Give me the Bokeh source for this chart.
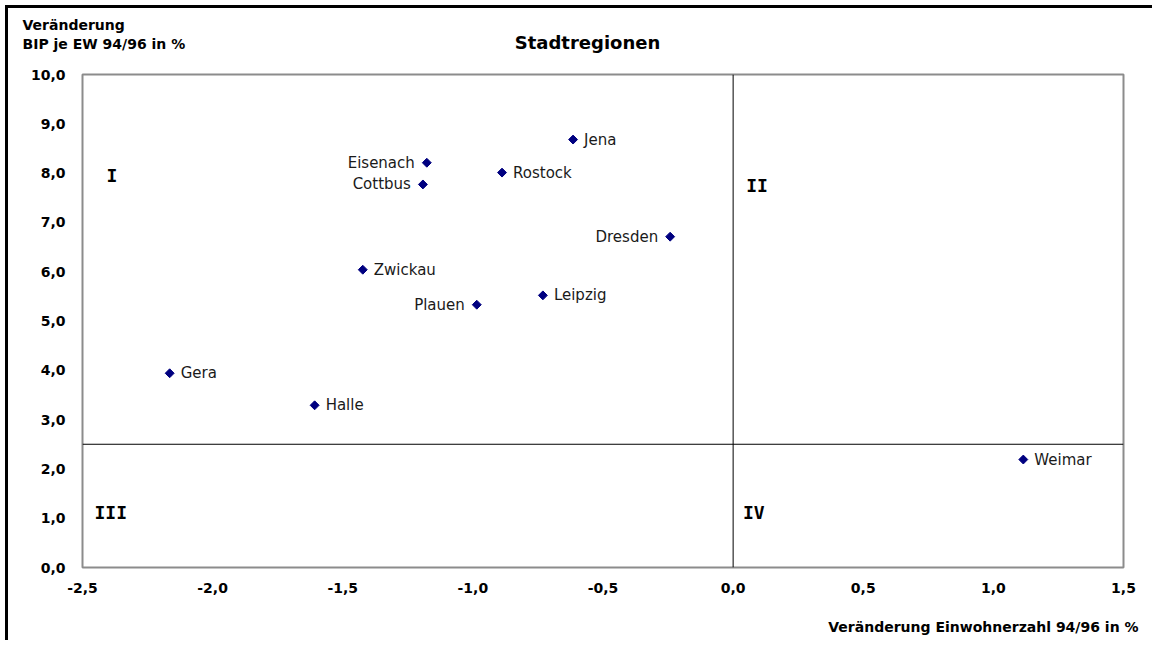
from bokeh.plotting import figure
from bokeh.models import (ColumnDataSource, Range1d, SingleIntervalTicker, CustomJSTickFormatter,
                          Span, Label)
from bokeh.core.properties import value
from bokeh.embed import file_html
from bokeh.resources import INLINE

# Data
cities = ["Jena", "Eisenach", "Rostock", "Cottbus", "Dresden", "Zwickau",
          "Leipzig", "Plauen", "Gera", "Halle", "Weimar"]
einwohner = [-0.615, -1.177, -0.888, -1.192, -0.242, -1.423,
             -0.731, -0.985, -2.165, -1.608, 1.115]
bip = [8.68, 8.21, 8.01, 7.77, 6.71, 6.04, 5.52, 5.33, 3.94, 3.29, 2.19]
label_side = ["right", "left", "right", "left", "left", "right",
              "right", "left", "right", "right", "right"]

quadrants = ["I", "II", "III", "IV"]
quad_x = [-2.408, 0.05, -2.454, 0.038]
quad_y = [7.96, 7.75, 1.12, 1.12]

x_divider = 0.0
y_divider = 2.5

FONT = "DejaVu Sans"

src_pts = ColumnDataSource(dict(x=einwohner, y=bip))

def side_source(side):
    idx = [i for i, s in enumerate(label_side) if s == side]
    return ColumnDataSource(dict(x=[einwohner[i] for i in idx],
                                 y=[bip[i] for i in idx],
                                 name=[cities[i] for i in idx]))

H = 632
p = figure(width=1144, height=H, frame_width=1041, frame_height=493,
           x_range=Range1d(-2.5, 1.5), y_range=Range1d(0, 10),
           output_backend="svg", toolbar_location=None,
           min_border_left=74, min_border_top=66, min_border_right=29, min_border_bottom=73)
p.styles = {"border-top": "3px solid black", "border-left": "3px solid black",
            "margin-left": "5px", "margin-top": "5px"}

p.grid.visible = False
p.outline_line_color = "#8c8c8c"
p.outline_line_width = 2
p.background_fill_color = "white"
p.border_fill_color = "white"

fmt = CustomJSTickFormatter(code="return tick.toFixed(1).replace('.', ',');")
for ax, interval, standoff in ((p.xaxis[0], 0.5, 9), (p.yaxis[0], 1.0, 11)):
    ax.ticker = SingleIntervalTicker(interval=interval)
    ax.formatter = fmt
    ax.axis_line_color = None
    ax.major_tick_line_color = None
    ax.minor_tick_line_color = None
    ax.major_label_text_font = FONT
    ax.major_label_text_font_style = "bold"
    ax.major_label_text_font_size = "14px"
    ax.major_label_text_color = "black"
    ax.major_label_standoff = standoff

p.add_layout(Span(location=x_divider, dimension="height", line_color="black", line_width=1))
p.add_layout(Span(location=y_divider, dimension="width", line_color="black", line_width=1))

p.scatter("x", "y", source=src_pts, marker="square", angle=0.785398, size=6.3,
          fill_color="#000080", line_color="#000080")

for side, align, off in (("right", "left", 11), ("left", "right", -12)):
    p.text("x", "y", text="name", source=side_source(side), text_align=align,
           text_baseline="middle", x_offset=off, text_font=value(FONT),
           text_font_size="15px", text_color="#1a1a1a")

p.text(x=quad_x, y=quad_y, text=quadrants, text_align="left", text_baseline="middle",
       text_font=value("DejaVu Sans Mono"), text_font_style="bold", text_font_size="18px",
       text_color="black")

def add_label(txt, x, y, panel, align="left", size="14px"):
    p.add_layout(Label(x=x, y=y, x_units="canvas", y_units="canvas", text=txt,
                       text_align=align, text_baseline="middle", text_font=FONT,
                       text_font_size=size, text_font_style="bold",
                       text_color="black"), panel)

add_label("Veränderung", 11, 13, "above")
add_label("BIP je EW 94/96 in %", 11, 32, "above")
add_label("Stadtregionen", 576, 31, "above", align="center", size="18px")
add_label("Veränderung Einwohnerzahl 94/96 in %", 1127, 615, "below", align="right")

open("out.html", "w").write(file_html(p, INLINE))
